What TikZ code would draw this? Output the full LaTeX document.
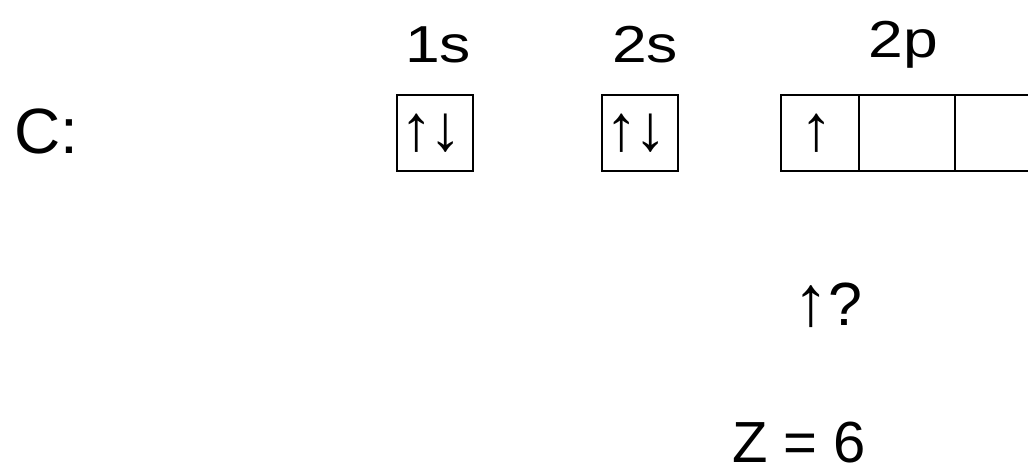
\documentclass[tikz,border=0pt]{standalone}
\usepackage{fontspec}
\setmainfont{Liberation Sans}
\newfontfamily\labelfont[FakeStretch=1.2]{Liberation Sans}
\usetikzlibrary{positioning}

\begin{document}
\begin{tikzpicture}[
  x=1pt, y=-1pt,
  orbital/.style={rectangle, draw, line width=2pt, minimum width=76pt, minimum height=76pt, inner sep=0pt, outer sep=0pt, font=\fontsize{65}{70}\selectfont},
  cell/.style={orbital, minimum width=#1},
  shell/.style={anchor=base, inner sep=0pt, font=\labelfont\fontsize{52}{60}\selectfont},
  plain/.style={anchor=base west, inner sep=0pt}
]
  \useasboundingbox (0,0) rectangle (1028,471);

  \node[plain, font=\fontsize{64}{70}\selectfont] (atom) at (14,153) {C:};

  % orbital boxes
  \node[orbital] (s1) at (435,133) {\makebox[70pt][l]{↑\kern-3pt↓}};
  \node[orbital] (s2) at (640,133) {\makebox[70pt][l]{↑\kern-3pt↓}};
  \node[cell=78pt] (p1) at (820,133) {\makebox[40pt][l]{↑}};
  \node[cell=96pt, right=0pt of p1] (p2) {};
  \node[cell=85pt, right=0pt of p2] (p3) {};

  % shell labels
  \node[shell] (s1lbl) at (438,62) {1s};
  \node[shell] (s2lbl) at (645,62) {2s};
  \node[shell] (p2lbl) at (903,57) {2p};

  \node[plain, font=\fontsize{61}{66}\selectfont] (next) at (793,325) {{\fontsize{71}{76}\selectfont ↑}?};
  \node[plain, font=\fontsize{58}{64}\selectfont] (charge) at (732,462) {Z = 6};
\end{tikzpicture}
\end{document}
